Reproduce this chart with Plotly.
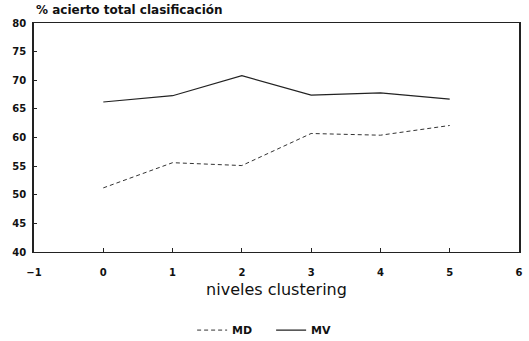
import plotly.graph_objects as go

niveles = [0, 1, 2, 3, 4, 5]
md = [51.2, 55.6, 55.1, 60.7, 60.4, 62.1]
mv = [66.2, 67.3, 70.8, 67.4, 67.8, 66.7]
y_ticks = [40, 45, 50, 55, 60, 65, 70, 75, 80]
x_ticks = [-1, 0, 1, 2, 3, 4, 5, 6]

FONT = "DejaVu Sans, Liberation Sans, Arial, sans-serif"

fig = go.Figure()
fig.add_trace(go.Scatter(x=niveles, y=md, mode="lines", name="MD",
                         line=dict(color="#333333", width=1, dash="4px,3px")))
fig.add_trace(go.Scatter(x=niveles, y=mv, mode="lines", name="MV",
                         line=dict(color="#222222", width=1.2)))

fig.update_layout(
    width=529, height=341,
    margin=dict(l=34, r=10, t=23, b=89, autoexpand=False),
    plot_bgcolor="white", paper_bgcolor="white",
    font=dict(family=FONT, color="#111111"),
    showlegend=True,
    legend=dict(orientation="h", x=0.326, xanchor="left", yref="container",
                y=0.032, yanchor="middle", entrywidth=34, entrywidthmode="pixels",
                font=dict(size=11, weight="bold"), tracegroupgap=0),
    annotations=[dict(text="<b>% acierto total clasificación</b>", xref="paper", yref="paper",
                      x=0, y=1.057, xanchor="left", yanchor="middle", showarrow=False,
                      font=dict(size=12))],
)
fig.update_xaxes(range=[-1, 6], tickvals=x_ticks, showgrid=False, zeroline=False,
                 showline=True, linecolor="#222222", linewidth=1, mirror=True,
                 ticks="inside", ticklen=4, tickcolor="#222222", ticklabelstandoff=11,
                 automargin=False,
                 tickfont=dict(size=10, weight="bold"), title=dict(text="niveles clustering",
                 font=dict(size=16), standoff=6))
fig.update_yaxes(range=[40, 80], tickvals=y_ticks, showgrid=False, zeroline=False,
                 showline=True, linecolor="#222222", linewidth=1.5, mirror=True,
                 ticks="inside", ticklen=3, tickcolor="#222222", automargin=False,
                 ticklabelstandoff=4,
                 tickfont=dict(size=10, weight="bold"))

fig.write_html("out.html")
